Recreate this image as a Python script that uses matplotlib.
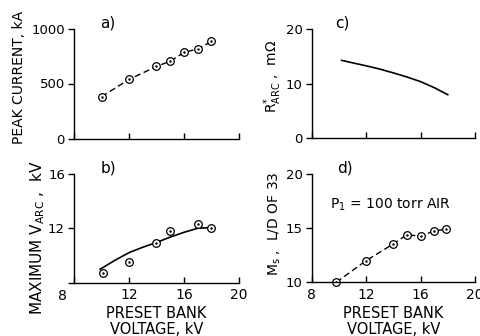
import numpy as np
import matplotlib
matplotlib.use("Agg")
import matplotlib.pyplot as plt

plt.rcParams['font.family'] = ['DejaVu Sans']
plt.rcParams['mathtext.fontset'] = 'dejavusans'

# a) peak current vs bank voltage
a_kv = [10, 12, 14, 15, 16, 17, 18]
a_peak = [380, 537, 655, 703, 782, 815, 882]

# b) maximum arc voltage, measured points and smooth fit
b_kv = [10.1, 12, 14, 15, 17, 18]
b_varc = [8.7, 9.5, 10.9, 11.8, 12.3, 12.0]
b_fit_kv = [9.9, 11, 12, 13, 14, 15, 16, 17, 18]
b_fit_varc = [8.98, 9.65, 10.2, 10.6, 10.95, 11.35, 11.7, 12.0, 12.05]

# c) arc resistance curve
c_kv = [10.2, 11, 12, 13, 14, 15, 16, 17, 18]
c_rarc = [14.3, 13.85, 13.3, 12.7, 12.0, 11.25, 10.4, 9.3, 8.0]

# d) shock Mach number
d_kv = [9.8, 12, 14, 15, 16, 17, 17.9]
d_ms = [10.0, 12.0, 13.55, 14.4, 14.25, 14.75, 14.9]

W, H = 481, 336
fig = plt.figure(figsize=(W / 100, H / 100), dpi=100)


def px_axes(x0, x1, ytop, ybot):
    return fig.add_axes([x0 / W, 1 - ybot / H, (x1 - x0) / W, (ybot - ytop) / H])


ax_a = px_axes(74, 239, 28.5, 138.5)
ax_b = px_axes(74, 239, 174, 282.5)
ax_c = px_axes(311.7, 475, 29.3, 138.3)
ax_d = px_axes(311.7, 475, 174, 282.3)

for ax in (ax_a, ax_b, ax_c, ax_d):
    ax.spines['top'].set_visible(False)
    ax.spines['right'].set_visible(False)
    for s in ('left', 'bottom'):
        ax.spines[s].set_linewidth(1.0)
    ax.set_xlim(8, 20)
    ax.set_xticks([8, 12, 16, 20])
    ax.tick_params(axis='x', direction='in', length=4, width=1.0, labelsize=10, pad=4)
    ax.tick_params(axis='y', direction='out', length=4, width=1.0, labelsize=9.5, pad=2.5)
    ax.patch.set_visible(False)

marker_kw = dict(marker='o', markersize=5.5, markerfacecolor='white',
                 markeredgecolor='black', markeredgewidth=0.9, clip_on=False)
dash = (0, (4.5, 2.5))

# panel a
ax_a.plot(a_kv, a_peak, color='black', lw=1.0, linestyle=dash, **marker_kw)
ax_a.plot(a_kv, a_peak, '.', color='black', markersize=1.5)
ax_a.set_ylim(0, 1000)
ax_a.set_yticks([0, 500, 1000])
ax_a.set_yticklabels(['0', '500', '1000'])
ax_a.set_xticklabels([])
ax_a.text(9.9, 1010, 'a)', fontsize=11, ha='left', va='baseline')

# panel b
ax_b.plot(b_fit_kv, b_fit_varc, color='black', lw=1.2)
ax_b.plot(b_kv, b_varc, linestyle='none', **marker_kw)
ax_b.plot(b_kv, b_varc, '.', color='black', markersize=1.5)
ax_b.set_ylim(8, 16)
ax_b.set_yticks([8, 12, 16])
ax_b.set_yticklabels(['', '12', '16'])
ax_b.set_xticklabels(['', '12', '16', '20'])
ax_b.annotate('8', xy=(8, 8), xytext=(-8.6, -9.4), textcoords='offset points',
              ha='center', va='center', fontsize=10, annotation_clip=False)
ax_b.text(9.9, 16.08, 'b)', fontsize=11, ha='left', va='baseline')

# panel c
ax_c.plot(c_kv, c_rarc, color='black', lw=1.2)
ax_c.set_ylim(0, 20)
ax_c.set_yticks([0, 10, 20])
ax_c.set_xticklabels([])
ax_c.text(9.7, 20.3, 'c)', fontsize=11, ha='left', va='baseline')

# panel d
ax_d.plot(d_kv, d_ms, color='black', lw=1.0, linestyle=dash, **marker_kw)
ax_d.plot(d_kv, d_ms, '.', color='black', markersize=1.5)
ax_d.set_ylim(10, 20)
ax_d.set_yticks([10, 15, 20])
ax_d.set_xticklabels(['8', '12', '16', '20'])
ax_d.text(9.9, 20.15, 'd)', fontsize=11, ha='left', va='baseline')
ax_d.text(9.35, 16.8, 'P$_{\\mathregular{1}}$ = 100 torr AIR', fontsize=10,
          ha='left', va='baseline')

# axis titles
fig.text(19 / W, 1 - 77.5 / H, 'PEAK CURRENT, kA', rotation=90,
         ha='center', va='center', fontsize=10)
fig.text(38 / W, 1 - 238 / H, 'MAXIMUM V$_{\\mathregular{ARC}}$ ,  kV', rotation=90,
         ha='center', va='center', fontsize=11)
fig.text(273 / W, 1 - 76.5 / H, 'R$^{*}_{\\mathregular{ARC}}$ ,  m\u03a9', rotation=90,
         ha='center', va='center', fontsize=10)
fig.text(275 / W, 1 - 224 / H, 'M$_{\\mathregular{s}}$ ,  L/D OF 33', rotation=90,
         ha='center', va='center', fontsize=10)

for xc in ((74 + 239) / 2, (311.7 + 475) / 2):
    fig.text(xc / W, 1 - 321.5 / H, 'PRESET BANK\nVOLTAGE, kV', ha='center',
             va='center', fontsize=10.5, linespacing=1.15)

fig.savefig('out.png', dpi=100)
